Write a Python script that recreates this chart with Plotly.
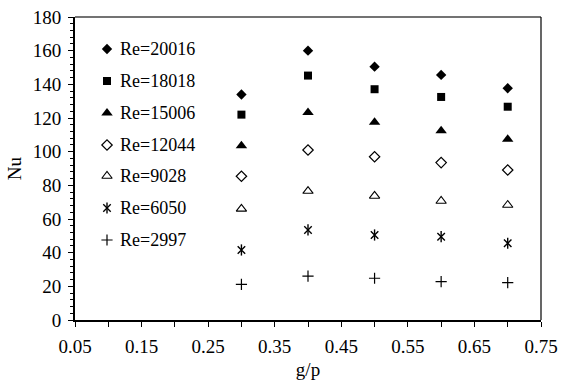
import plotly.graph_objects as go

# Nusselt number vs. gap-to-pitch ratio for several Reynolds numbers
g_p = [0.3, 0.4, 0.5, 0.6, 0.7]
nu_re20016 = [134, 160, 150.5, 145.6, 137.7]
nu_re18018 = [122, 145.2, 137.1, 132.5, 126.7]
nu_re15006 = [103.5, 123.2, 117.5, 112.5, 107.4]
nu_re12044 = [85.4, 101, 97, 93.5, 89.1]
nu_re9028 = [66, 76.6, 73.7, 70.7, 68.3]
nu_re6050 = [41.6, 53.5, 50.5, 49.5, 45.6]
nu_re2997 = [21.2, 26.1, 24.8, 22.8, 22.2]

series_names = ["Re=20016", "Re=18018", "Re=15006", "Re=12044",
                "Re=9028", "Re=6050", "Re=2997"]
series_values = [nu_re20016, nu_re18018, nu_re15006, nu_re12044,
                 nu_re9028, nu_re6050, nu_re2997]

# marker styles: list of (symbol, size, line width) layers per series
styles = [
    [("diamond", 8, 0)],
    [("square", 8, 0)],
    [("triangle-up", 10, 0)],
    [("diamond-open", 8, 1.2)],
    [("triangle-up-open", 9, 1.1)],
    [("x-thin-open", 7.5, 1.4), ("line-ns-open", 8, 1.4)],
    [("cross-thin-open", 8, 1.2)],
]

FONT = "Liberation Serif, Times New Roman, serif"
W, H = 566, 383
L, R, T, B = 75, 25, 17, 63
plot_h = H - T - B

fig = go.Figure()

for name, vals, layers in zip(series_names, series_values, styles):
    for sym, size, lw in layers:
        fig.add_trace(go.Scatter(
            x=g_p, y=vals, mode="markers", name=name, showlegend=False,
            marker=dict(symbol=sym, size=size, color="black",
                        line=dict(color="black", width=lw)),
            hoverinfo="x+y",
        ))

# legend block drawn on an overlay axis (0..1 in both directions)
leg_rows_px = [49, 81, 113, 145, 176, 208, 240]
leg_x = (107 - L) / (W - L - R)
leg_y = [(T + plot_h - y) / plot_h for y in leg_rows_px]
for i, (name, layers) in enumerate(zip(series_names, styles)):
    for sym, size, lw in layers:
        fig.add_trace(go.Scatter(
            x=[leg_x], y=[leg_y[i]], mode="markers", showlegend=False,
            xaxis="x2", yaxis="y2", hoverinfo="skip",
            marker=dict(symbol=sym, size=size, color="black",
                        line=dict(color="black", width=lw)),
        ))
    fig.add_annotation(
        x=(118 - L) / (W - L - R), y=leg_y[i], xref="paper", yref="paper",
        text=name, showarrow=False, xanchor="left", yanchor="middle",
        font=dict(family=FONT, size=18, color="black"),
    )

# top and right frame lines
fig.add_shape(type="line", xref="paper", yref="paper", x0=0, x1=1, y0=1, y1=1,
              line=dict(color="#444444", width=1.3))
fig.add_shape(type="line", xref="paper", yref="paper", x0=1, x1=1, y0=0, y1=1,
              line=dict(color="black", width=1.2))

fig.update_layout(
    width=W, height=H,
    margin=dict(l=L, r=R, t=T, b=B, autoexpand=False),
    paper_bgcolor="white", plot_bgcolor="white",
    font=dict(family=FONT, size=19, color="black"),
    showlegend=False,
    xaxis=dict(
        range=[0.05, 0.75], tick0=0.05, dtick=0.1, tickformat=".2f",
        showgrid=False, zeroline=False, automargin=False,
        showline=True, linecolor="black", linewidth=2,
        ticks="outside", ticklen=5, tickwidth=1.2, tickcolor="black",
        minor=dict(dtick=0.05, tick0=0.05, ticks="outside", ticklen=5,
                   tickwidth=1.2, tickcolor="black", showgrid=False),
        ticklabelstandoff=3,
        title=dict(text="g/p", font=dict(size=19), standoff=7),
        tickfont=dict(size=19),
    ),
    yaxis=dict(
        range=[0, 180], dtick=20,
        showgrid=False, zeroline=False, automargin=False,
        showline=True, linecolor="black", linewidth=2,
        ticks="outside", ticklen=5, tickwidth=1.2, tickcolor="black",
        minor=dict(dtick=4, ticks="outside", ticklen=3, tickwidth=1,
                   tickcolor="black", showgrid=False),
        ticklabelstandoff=3,
        title=dict(text="Nu", font=dict(size=19), standoff=6),
        tickfont=dict(size=19),
    ),
    xaxis2=dict(overlaying="x", range=[0, 1], visible=False, fixedrange=True),
    yaxis2=dict(overlaying="y", range=[0, 1], visible=False, fixedrange=True),
)

fig.write_html("out.html")
